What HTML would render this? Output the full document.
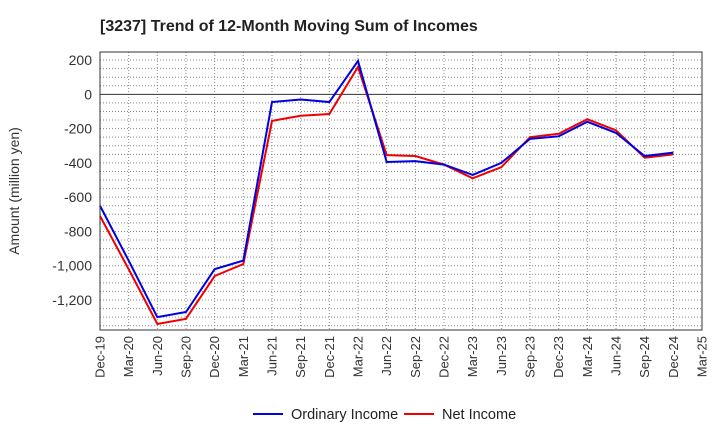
<!DOCTYPE html>
<html><head><meta charset="utf-8"><style>
body{margin:0;background:#fff;font-family:"Liberation Sans",sans-serif}
</style></head><body>
<svg id="c" width="720" height="440" xmlns="http://www.w3.org/2000/svg">
<text x="100" y="31" font-size="16" font-weight="bold" fill="#222">[3237]  Trend of 12-Month Moving Sum of Incomes</text>
<text transform="translate(19,191) rotate(-90)" text-anchor="middle" font-size="14" fill="#333">Amount (million yen)</text>
<g id="grid"></g><g id="series"></g>
<rect x="100" y="52" width="602" height="278" fill="none" stroke="#333"/>
<g>
<line x1="253" y1="414" x2="283" y2="414" stroke="#0000e0" stroke-width="2"/>
<text x="291" y="419" font-size="14.5" fill="#222">Ordinary Income</text>
<line x1="404" y1="414" x2="434" y2="414" stroke="#f00000" stroke-width="2"/>
<text x="442" y="419" font-size="14.5" fill="#222">Net Income</text>
</g>
</svg>
<script>
const categories=["Dec-19","Mar-20","Jun-20","Sep-20","Dec-20","Mar-21","Jun-21","Sep-21","Dec-21","Mar-22","Jun-22","Sep-22","Dec-22","Mar-23","Jun-23","Sep-23","Dec-23","Mar-24","Jun-24","Sep-24","Dec-24","Mar-25"];
const ordinaryIncome=[-650,-970,-1300,-1270,-1020,-970,-45,-30,-45,195,-395,-390,-410,-470,-400,-260,-245,-160,-225,-360,-340];
const netIncome=[-710,-1020,-1340,-1310,-1060,-990,-155,-125,-115,160,-355,-360,-410,-490,-425,-250,-230,-145,-210,-370,-350];
const yTicks=[200,0,-200,-400,-600,-800,-1000,-1200];
const NS="http://www.w3.org/2000/svg";
const X0=100,X1=702,Y0=52,Y1=330,YMAX=247,YMIN=-1375;
const xs=i=>X0+i*(X1-X0)/(categories.length-1);
const ys=v=>Y0+(YMAX-v)*(Y1-Y0)/(YMAX-YMIN);
const grid=document.getElementById('grid'),ser=document.getElementById('series');
function mk(tag,attrs,parent){const e=document.createElementNS(NS,tag);for(const k in attrs)e.setAttribute(k,attrs[k]);parent.appendChild(e);return e;}
for(let i=0;i<categories.length;i++){
 const x=xs(i);
 const g=mk('line',{x1:x,x2:x,y1:Y0,y2:Y1,stroke:'#888','stroke-dasharray':'1,2'},grid);
 
 
 const t=mk('text',{transform:`translate(${x+4.5},${Y1+6}) rotate(-90)`,'text-anchor':'end','font-size':13,fill:'#333'},grid);
 t.textContent=categories[i];
 
 
}
for(let v=-1350;v<=200;v+=50){
 const y=ys(v);
 const g=mk('line',{x1:X0,x2:X1,y1:y,y2:y,stroke:v===0?'#333':'#888','stroke-dasharray':v===0?'none':'1,2'},grid);
 
 
}
yTicks.forEach(v=>{
 const t=mk('text',{x:X0-8,y:ys(v)+5,'text-anchor':'end','font-size':14,fill:'#333'},grid);
 t.textContent=v.toLocaleString('en-US');
 
 
});
function line(data,color,name){
 const p=mk('polyline',{points:data.map((v,i)=>xs(i)+','+ys(v)).join(' '),fill:'none',stroke:color,'stroke-width':2},ser);
 
 
}
line(netIncome,'#f00000','net-income-line');
line(ordinaryIncome,'#0000e0','ordinary-income-line');
</script>
</body></html>
